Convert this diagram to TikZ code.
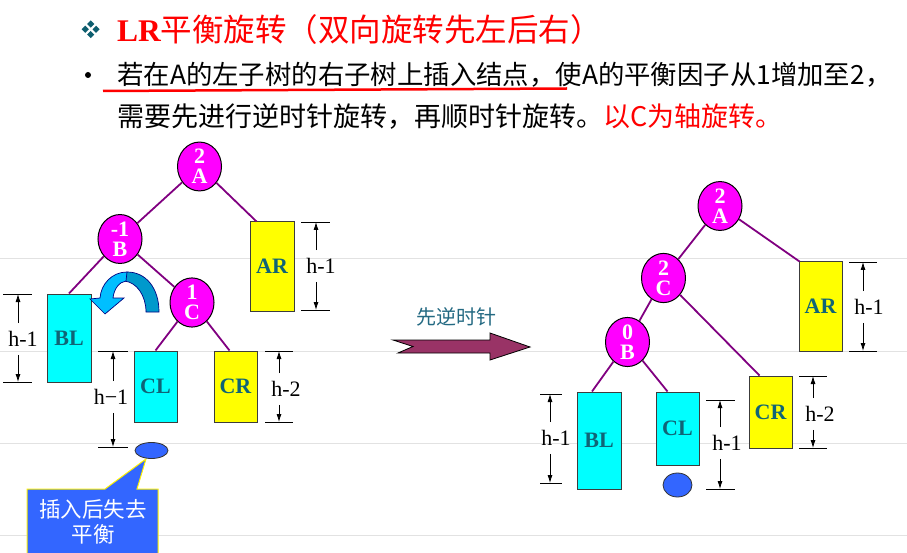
\documentclass[tikz,border=0pt]{standalone}
\usepackage{fontspec}
\setmainfont{Liberation Serif}
\newfontfamily\cjk{Noto Sans CJK SC}
\usetikzlibrary{shapes.geometric,arrows.meta}

\definecolor{nodemag}{RGB}{255,0,255}
\definecolor{edgepur}{RGB}{128,0,128}
\definecolor{boxtxt}{RGB}{16,100,118}
\definecolor{bcyan}{RGB}{0,255,255}
\definecolor{byellow}{RGB}{255,255,0}
\definecolor{insblue}{RGB}{51,102,255}
\definecolor{arrmaroon}{RGB}{153,51,102}
\definecolor{bullteal}{RGB}{14,94,111}
\definecolor{labteal}{RGB}{35,105,130}
\definecolor{curvlight}{RGB}{0,191,255}
\definecolor{curvdark}{RGB}{0,153,204}
\definecolor{curvedge}{RGB}{0,0,128}
\definecolor{faint}{RGB}{226,226,226}
\definecolor{boxedge}{RGB}{60,60,60}

\newcommand\dimmark[9]{%
  \coordinate (#1tl) at (#2,#5); \coordinate (#1tr) at (#3,#5);
  \coordinate (#1bl) at (#2,#6); \coordinate (#1br) at (#3,#6);
  \coordinate (#1at) at (#4,#5); \coordinate (#1ab) at (#4,#6);
  \draw[dimtick] (#1tl) -- (#1tr);
  \draw[dimtick] (#1bl) -- (#1br);
  \node[dimlab] (#1lab) at (#7,#8) {#9};
  \draw[dimarr] ([yshift=8pt]#1lab.north -| #1at) -- (#1at);
  \draw[dimarr] ([yshift=-8pt]#1lab.south -| #1ab) -- (#1ab);
}

\begin{document}
\begin{tikzpicture}[x=1pt,y=-1pt,
  treenode/.style={ellipse, draw=black, line width=1pt, fill=nodemag,
    minimum width=44pt, minimum height=48pt, inner sep=0pt, text=white,
    font=\fontsize{22}{20}\selectfont\bfseries, align=center},
  subtree/.style={rectangle, draw=boxedge, line width=1pt, inner sep=0pt,
    minimum width=44pt, text=boxtxt, font=\fontsize{22}{24}\selectfont\bfseries},
  cyanbox/.style={subtree, fill=bcyan},
  yelbox/.style={subtree, fill=byellow},
  treeedge/.style={draw=edgepur, line width=1.8pt},
  dimtick/.style={line width=0.9pt},
  dimarr/.style={-{Latex[length=8pt,width=5pt]}, line width=0.8pt},
  dimlab/.style={font=\fontsize{22}{24}\selectfont, inner sep=0pt},
  faintline/.style={draw=faint, line width=0.8pt}
]
\useasboundingbox (0,0) rectangle (907,553);

% faint background rules
\foreach \yy in {258,351,443,535} \draw[faintline] (0,\yy) -- (907,\yy);

% heading
\foreach \dx/\dy in {90.7/24, 85.3/29.3, 96.1/29.3, 90.7/34.6}
  \fill[bullteal] (\dx,\dy-3.6) -- (\dx+3.6,\dy) -- (\dx,\dy+3.6) -- (\dx-3.6,\dy) -- cycle;
\node[anchor=west, inner sep=0pt, text=red, font=\fontsize{31.5}{34}\selectfont] (title) at (117,30)
  {{\bfseries LR}\cjk 平衡旋转（双向旋转先左后右）};

\fill (88,75) circle[radius=3pt];
\node[anchor=west, inner sep=0pt, font=\cjk\fontsize{26.4}{30}\selectfont] (line2) at (117,75)
  {若在A的左子树的右子树上插入结点，使A的平衡因子从1增加至2，};
\node[anchor=west, inner sep=0pt, font=\cjk\fontsize{27}{30}\selectfont] (line3) at (117,117)
  {需要先进行逆时针旋转，再顺时针旋转。\textcolor{red}{以C为轴旋转。}};
\draw[red, line width=2.5pt] (103,91) -- (567,88.5);

% ---------- left tree ----------
\node[treenode] (A1) at (199.5,166.5) {2\\A};
\node[treenode] (B1) at (120,239) {-1\\B};
\node[treenode] (C1) at (192,302.5) {1\\C};
\node[yelbox, minimum height=89pt] (AR1) at (272,266.5) {AR};
\node[cyanbox, minimum height=88pt] (BL1) at (69,338) {BL};
\node[cyanbox, minimum height=71pt, minimum width=43pt] (CL1) at (155.5,386.5) {CL};
\node[yelbox, minimum height=71pt, minimum width=43pt] (CR1) at (235.5,386.5) {CR};

\draw[treeedge] (A1) -- (B1);
\draw[treeedge] (A1) -- ([xshift=7pt]AR1.north west);
\draw[treeedge] (B1) -- (BL1.north);
\draw[treeedge] (B1) -- (C1);
\draw[treeedge] (C1) -- (CL1.north);
\draw[treeedge] (C1) -- ([xshift=-6pt]CR1.north);

% curved rotation arrow
\filldraw[fill=curvdark, draw=curvedge, line width=0.7pt]
  (159,312) .. controls (159,288) and (146,272) .. (127,272)
  -- (124,281) .. controls (137,282) and (146,296) .. (146,312) -- cycle;
\filldraw[fill=curvlight, draw=curvedge, line width=0.7pt]
  (127,272) .. controls (112,272) and (101,284) .. (100,298)
  -- (90,299) -- (105,314) -- (124,298) -- (113,298)
  .. controls (114,289) and (119,282) .. (126,281) -- cycle;

\dimmark{da}{301}{330}{316}{222}{310}{321}{266}{h-1}
\dimmark{db}{3}{32}{18}{294}{382}{23}{339}{h-1}
\dimmark{dc}{98}{128}{113}{351}{447}{111}{397}{h−1}
\dimmark{dd}{265}{293}{279}{351}{422}{286}{389}{h-2}

% callout
\filldraw[fill=insblue, draw=yellow, line width=1pt]
  (27,489) -- (105,489) -- (146,459) -- (137,489) -- (158,489) -- (158,556) -- (27,556) -- cycle;
\node[text=white, align=center, font=\cjk\fontsize{21.5}{25}\selectfont] (callout) at (93,522) {插入后失去\\平衡};
\node[ellipse, draw=black!80, line width=0.8pt, fill=insblue, minimum width=33pt, minimum height=16pt, inner sep=0pt] (ins1) at (151.5,450.5) {};

% ---------- middle arrow ----------
\node[text=labteal, font=\cjk\fontsize{20}{22}\selectfont] (rotlab) at (456,317) {先逆时针};
\filldraw[fill=arrmaroon, draw=black, line width=0.8pt]
  (393,340) -- (490,340) -- (490,333) -- (530,347) -- (490,360) -- (490,353) -- (398,353) -- (413,346.5) -- cycle;

% ---------- right tree ----------
\node[treenode] (A2) at (720,206) {2\\A};
\node[treenode] (C2) at (663.5,278) {2\\C};
\node[treenode] (B2) at (627.5,342) {0\\B};
\node[yelbox, minimum height=89pt, minimum width=43pt] (AR2) at (820.5,306.5) {AR};
\node[cyanbox, minimum height=97pt] (BL2) at (599,440.5) {BL};
\node[cyanbox, minimum height=73pt, minimum width=43pt] (CL2) at (677.5,428.5) {CL};
\node[yelbox, minimum height=72pt, minimum width=43pt] (CR2) at (770.5,412) {CR};

\draw[treeedge] (A2) -- (C2);
\draw[treeedge] (A2) -- ([xshift=1pt]AR2.north west);
\draw[treeedge] (C2) -- (B2);
\draw[treeedge] (C2) -- ([xshift=11pt]CR2.north west);
\draw[treeedge] (B2) -- ([xshift=-7pt]BL2.north);
\draw[treeedge] (B2) -- ([xshift=12pt]CL2.north west);

\node[ellipse, draw=black!80, line width=0.8pt, fill=insblue, minimum width=29pt, minimum height=24pt, inner sep=0pt] (ins2) at (677.5,485) {};

\dimmark{de}{849}{877}{863}{262}{351}{869}{307}{h-1}
\dimmark{df}{540}{562}{550}{394}{483}{556}{438}{h-1}
\dimmark{dg}{706}{735}{720}{400}{489}{727}{443}{h-1}
\dimmark{dh}{799}{827}{813}{376}{448}{820}{414}{h-2}
\end{tikzpicture}
\end{document}
